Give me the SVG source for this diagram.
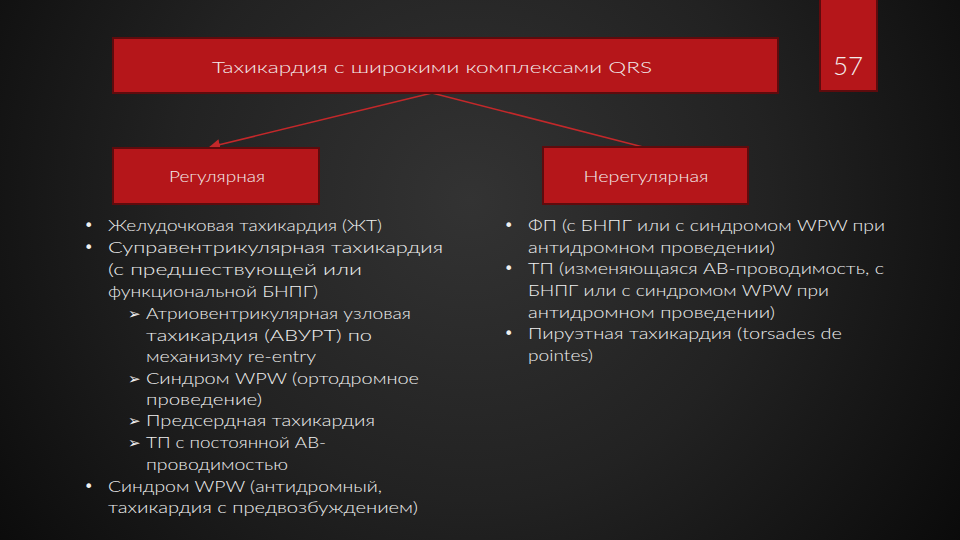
<svg xmlns="http://www.w3.org/2000/svg" width="960" height="540" viewBox="0 0 960 540">
<defs>
<radialGradient id="bg" cx="470" cy="200" r="600" gradientUnits="userSpaceOnUse">
<stop offset="0" stop-color="#333333"/>
<stop offset="0.5" stop-color="#222222"/>
<stop offset="1" stop-color="#0a0a0a"/>
</radialGradient>
<marker id="arr" viewBox="0 0 10 10" refX="9" refY="5" markerWidth="7" markerHeight="7" orient="auto-start-reverse">
<path d="M0,0 L10,5 L0,10 z" fill="#c3282a"/>
</marker>
<style>
.box{fill:#b5161a;stroke:#5e0b0d;stroke-width:2}
.t{font-family:Lato,"Open Sans","Liberation Sans",sans-serif;font-weight:300;fill:#f3ecec}
.bt{font-size:16.5px;text-anchor:middle}
.li{font-size:16.5px;fill:#f0f0f0}
.b{font-family:"DejaVu Sans",sans-serif;font-size:16px;fill:#f0f0f0}
.a{font-family:"DejaVu Sans",sans-serif;font-size:15px;fill:#f0f0f0}
.conn{stroke:#c3282a;stroke-width:1.6;fill:none}
</style>
</defs>
<rect width="960" height="540" fill="url(#bg)"/>
<g id="connectors">
<line class="conn" x1="432" y1="93" x2="210" y2="147" marker-end="url(#arr)"/>
<line class="conn" x1="432" y1="93" x2="643" y2="147"/>
</g>
<g id="page-number">
<rect class="box" x="820" y="-2" width="57" height="93"/>
<text class="t" x="848" y="75" font-size="26" text-anchor="middle">57</text>
</g>
<g id="top">
<rect class="box" x="113" y="38" width="665" height="55"/>
<text class="t bt" x="432" y="73" textLength="440" lengthAdjust="spacingAndGlyphs">Тахикардия с широкими комплексами QRS</text>
</g>
<g id="regular">
<rect class="box" x="113" y="148" width="206" height="56"/>
<text class="t bt" x="217" y="182" textLength="96" lengthAdjust="spacingAndGlyphs">Регулярная</text>
</g>
<g id="irregular">
<rect class="box" x="543" y="147" width="205" height="57"/>
<text class="t bt" x="646" y="182" textLength="125" lengthAdjust="spacingAndGlyphs">Нерегулярная</text>
</g>
<g id="left-list">
<text class="b" x="84" y="231">•</text>
<text class="t li" x="108" y="231" textLength="274" lengthAdjust="spacingAndGlyphs">Желудочковая тахикардия (ЖТ)</text>
<text class="b" x="84" y="253">•</text>
<text class="t li" x="108" y="253" textLength="335" lengthAdjust="spacingAndGlyphs">Суправентрикулярная тахикардия</text>
<text class="t li" x="108" y="275" textLength="254" lengthAdjust="spacingAndGlyphs">(с предшествующей или</text>
<text class="t li" x="108" y="297" textLength="210" lengthAdjust="spacingAndGlyphs">функциональной БНПГ)</text>
<text class="a" x="128" y="319">➢</text>
<text class="t li" x="146" y="319" textLength="265" lengthAdjust="spacingAndGlyphs">Атриовентрикулярная узловая</text>
<text class="t li" x="146" y="341" textLength="226" lengthAdjust="spacingAndGlyphs">тахикардия (АВУРТ) по</text>
<text class="t li" x="146" y="362" textLength="170" lengthAdjust="spacingAndGlyphs">механизму re-entry</text>
<text class="a" x="128" y="384">➢</text>
<text class="t li" x="146" y="384" textLength="273" lengthAdjust="spacingAndGlyphs">Синдром WPW (ортодромное</text>
<text class="t li" x="146" y="405" textLength="116" lengthAdjust="spacingAndGlyphs">проведение)</text>
<text class="a" x="128" y="426">➢</text>
<text class="t li" x="146" y="426" textLength="229" lengthAdjust="spacingAndGlyphs">Предсердная тахикардия</text>
<text class="a" x="128" y="448">➢</text>
<text class="t li" x="146" y="448" textLength="180" lengthAdjust="spacingAndGlyphs">ТП с постоянной АВ-</text>
<text class="t li" x="146" y="470" textLength="142" lengthAdjust="spacingAndGlyphs">проводимостью</text>
<text class="b" x="84" y="492">•</text>
<text class="t li" x="108" y="492" textLength="274" lengthAdjust="spacingAndGlyphs">Синдром WPW (антидромный,</text>
<text class="t li" x="108" y="513" textLength="310" lengthAdjust="spacingAndGlyphs">тахикардия с предвозбуждением)</text>
</g>
<g id="right-list">
<text class="b" x="504" y="231">•</text>
<text class="t li" x="528" y="231" textLength="357" lengthAdjust="spacingAndGlyphs">ФП (с БНПГ или с синдромом WPW при</text>
<text class="t li" x="528" y="253" textLength="247" lengthAdjust="spacingAndGlyphs">антидромном проведении)</text>
<text class="b" x="504" y="274">•</text>
<text class="t li" x="528" y="274" textLength="356" lengthAdjust="spacingAndGlyphs">ТП (изменяющаяся АВ-проводимость, с</text>
<text class="t li" x="528" y="296" textLength="301" lengthAdjust="spacingAndGlyphs">БНПГ или с синдромом WPW при</text>
<text class="t li" x="528" y="318" textLength="247" lengthAdjust="spacingAndGlyphs">антидромном проведении)</text>
<text class="b" x="504" y="339">•</text>
<text class="t li" x="528" y="339" textLength="314" lengthAdjust="spacingAndGlyphs">Пируэтная тахикардия (torsades de</text>
<text class="t li" x="528" y="361" textLength="65" lengthAdjust="spacingAndGlyphs">pointes)</text>
</g>
</svg>
